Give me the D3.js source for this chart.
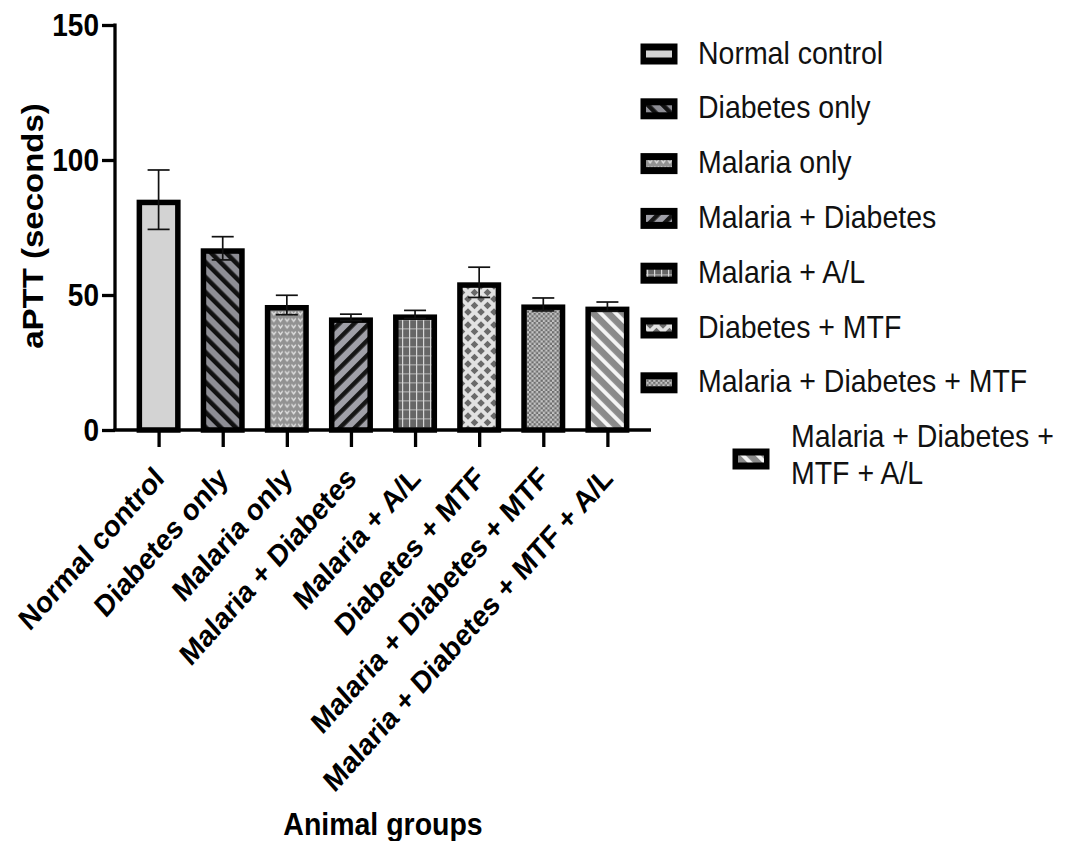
<!DOCTYPE html>
<html>
<head>
<meta charset="utf-8">
<script src="https://cdn.jsdelivr.net/npm/d3@7"></script>
<style>
  html, body { margin: 0; padding: 0; background: #fff; }
  svg { display: block; font-family: "Liberation Sans", Arial, sans-serif; }
</style>
</head>
<body>
<svg id="chart" width="1065" height="841"></svg>
<script>
// ---- data ----
const categories = [
  "Normal control", "Diabetes only", "Malaria only", "Malaria + Diabetes",
  "Malaria + A/L", "Diabetes + MTF", "Malaria + Diabetes + MTF",
  "Malaria + Diabetes + MTF + A/L"
];
const means = [85.3, 67.3, 46.3, 41.7, 42.8, 54.7, 46.5, 45.7];
const errors = [11.0, 4.3, 3.6, 1.2, 1.5, 5.6, 2.4, 1.7];
const yTicks = [0, 50, 100, 150];
const yTitle = "aPTT (seconds)";
const xTitle = "Animal groups";
const patternIds = ["p0", "p1", "p2", "p3", "p4", "p5", "p6", "p7"];

// ---- layout ----
const svg = d3.select("#chart");
const X0 = 115, X1 = 651, Y0 = 430, Y1 = 25;
const k = 1.1; // vertical text stretch

const y = d3.scaleLinear().domain([0, 150]).range([Y0, Y1]);
const x = d3.scalePoint().domain(categories).range([X0, X1]).padding(0.68);

// ---- patterns ----
const defs = svg.append("defs");
function stripes(id, bg, fg, angle, period, w) {
  const p = defs.append("pattern").attr("id", id).attr("patternUnits", "userSpaceOnUse")
    .attr("width", period).attr("height", period)
    .attr("patternTransform", `rotate(${angle})`);
  p.append("rect").attr("width", period).attr("height", period).attr("fill", bg);
  p.append("rect").attr("x", 0).attr("y", 0).attr("width", w).attr("height", period).attr("fill", fg);
}
// 0 normal control
defs.append("pattern").attr("id", "p0").attr("patternUnits", "userSpaceOnUse")
  .attr("width", 10).attr("height", 10)
  .append("rect").attr("width", 10).attr("height", 10).attr("fill", "#d3d3d3");
// 1 diabetes only: gray with black "\" stripes
stripes("p1", "#8e8e95", "#111", -45, 10.6, 4.5);
// 2 malaria only: gray with white v marks
(function () {
  const p = defs.append("pattern").attr("id", "p2").attr("patternUnits", "userSpaceOnUse")
    .attr("width", 6.6).attr("height", 6.6);
  p.append("rect").attr("width", 6.6).attr("height", 6.6).attr("fill", "#929292");
  p.append("path").attr("d", "M1.2,1.5 L3.3,4.6 L5.4,1.5").attr("fill", "none")
    .attr("stroke", "#e6e6e6").attr("stroke-width", 1.3);
})();
// 3 malaria + diabetes: gray with black "/" stripes
stripes("p3", "#a0a0a8", "#161616", 45, 10.6, 4.5);
// 4 malaria + A/L: dark gray plaid
(function () {
  const p = defs.append("pattern").attr("id", "p4").attr("patternUnits", "userSpaceOnUse")
    .attr("width", 7).attr("height", 9);
  p.append("rect").attr("width", 7).attr("height", 9).attr("fill", "#666");
  p.append("rect").attr("x", 0).attr("y", 4).attr("width", 7).attr("height", 1.6).attr("fill", "#9a9a9a");
  p.append("rect").attr("x", 3).attr("y", 0).attr("width", 1.2).attr("height", 9).attr("fill", "#d8d8d8");
})();
// 5 diabetes + MTF: light with gray diamonds
(function () {
  const s = 13, r = 3.8;
  const p = defs.append("pattern").attr("id", "p5").attr("patternUnits", "userSpaceOnUse")
    .attr("width", s).attr("height", s);
  p.append("rect").attr("width", s).attr("height", s).attr("fill", "#e2e2e2");
  [[0, 0], [s, 0], [0, s], [s, s], [s / 2, s / 2]].forEach(([cx, cy]) => {
    p.append("path").attr("d", `M${cx},${cy - r} L${cx + r},${cy} L${cx},${cy + r} L${cx - r},${cy} Z`)
      .attr("fill", "#6a6a6a");
  });
})();
// 6 malaria + diabetes + MTF: fine checker
(function () {
  const s = 4.6, h = s / 2;
  const p = defs.append("pattern").attr("id", "p6").attr("patternUnits", "userSpaceOnUse")
    .attr("width", s).attr("height", s);
  p.append("rect").attr("width", s).attr("height", s).attr("fill", "#c4c4c4");
  p.append("rect").attr("x", 0).attr("y", 0).attr("width", h).attr("height", h).attr("fill", "#6e6e6e");
  p.append("rect").attr("x", h).attr("y", h).attr("width", h).attr("height", h).attr("fill", "#6e6e6e");
})();
// 7 last: gray with white "\" stripes
stripes("p7", "#8a8a8a", "#f4f4f4", -45, 10.6, 4);

// ---- bars ----
const outerW = 44, sw = 5.5;
svg.append("g").selectAll("rect").data(categories).join("rect")
  .attr("x", d => x(d) - outerW / 2 + sw / 2)
  .attr("y", (d, i) => y(means[i]) + sw / 2)
  .attr("width", outerW - sw)
  .attr("height", (d, i) => Y0 - y(means[i]) - sw / 2)
  .attr("fill", (d, i) => `url(#${patternIds[i]})`)
  .attr("stroke", "#000").attr("stroke-width", sw);

// ---- error bars ----
const eg = svg.append("g").attr("stroke", "#111").attr("stroke-width", 1.7);
categories.forEach((c, i) => {
  const cx = x(c), hi = y(means[i] + errors[i]), lo = y(means[i] - errors[i]);
  eg.append("line").attr("x1", cx).attr("x2", cx).attr("y1", hi).attr("y2", lo);
  eg.append("line").attr("x1", cx - 11).attr("x2", cx + 11).attr("y1", hi).attr("y2", hi);
  eg.append("line").attr("x1", cx - 11).attr("x2", cx + 11).attr("y1", lo).attr("y2", lo);
});

// ---- axes ----
const yAxis = svg.append("g").attr("transform", `translate(${X0},0)`)
  .call(d3.axisLeft(y).tickValues(yTicks).tickSize(13).tickSizeOuter(0).tickFormat(""));
yAxis.selectAll("path, line").attr("stroke", "#000").attr("stroke-width", 3.3);
const xAxis = svg.append("g").attr("transform", `translate(0,${Y0})`)
  .call(d3.axisBottom(x).tickSize(17).tickSizeOuter(0).tickFormat(""));
xAxis.selectAll("path, line").attr("stroke", "#000").attr("stroke-width", 3.3);
xAxis.select("path").attr("d", `M${X0 - 1.6},0H${X1}`);
yAxis.select("path").attr("d", `M0,${Y0}V${Y1 - 1.6}`);

// y tick labels
svg.append("g").selectAll("text").data(yTicks).join("text")
  .attr("transform", d => `translate(99,${y(d) + 11}) scale(1,${k})`)
  .attr("text-anchor", "end").attr("font-weight", "bold").attr("font-size", 28)
  .attr("fill", "#000").text(d => d);

// x tick labels
svg.append("g").selectAll("text").data(categories).join("text")
  .attr("transform", d => `translate(${x(d) + 7},${480}) scale(1,1.12) rotate(-45)`)
  .attr("text-anchor", "end").attr("font-weight", "bold").attr("font-size", 27)
  .attr("fill", "#000").text(d => d);

// axis titles
svg.append("text").attr("transform", `translate(43,226) scale(1,${k}) rotate(-90)`)
  .attr("text-anchor", "middle").attr("font-weight", "bold").attr("font-size", 30)
  .attr("fill", "#000").text(yTitle);
svg.append("text").attr("transform", `translate(383,835) scale(1,${k})`)
  .attr("text-anchor", "middle").attr("font-weight", "bold").attr("font-size", 28.5)
  .attr("fill", "#000").text(xTitle);

// ---- legend ----
const lg = svg.append("g");
const rowY = i => 54 + i * 54.8;
categories.forEach((c, i) => {
  const last = i === categories.length - 1;
  const cy = last ? 459 : rowY(i);
  const sx = last ? 732.5 : 640.5;
  lg.append("rect").attr("x", sx).attr("y", cy - 10.5).attr("width", 37).attr("height", 21).attr("fill", "#000");
  lg.append("rect").attr("x", sx + 5.5).attr("y", cy - 3.5).attr("width", 26).attr("height", 7)
    .attr("fill", `url(#${patternIds[i]})`);
  if (!last) {
    lg.append("text").attr("transform", `translate(698,${cy + 9.6}) scale(1,${k})`)
      .attr("font-size", 28.5).attr("fill", "#111").text(c);
  } else {
    lg.append("text").attr("transform", `translate(791,447) scale(1,${k})`)
      .attr("font-size", 28.5).attr("fill", "#111").text("Malaria + Diabetes +");
    lg.append("text").attr("transform", `translate(791,484) scale(1,${k})`)
      .attr("font-size", 28.5).attr("fill", "#111").text("MTF + A/L");
  }
});
</script>
</body>
</html>
